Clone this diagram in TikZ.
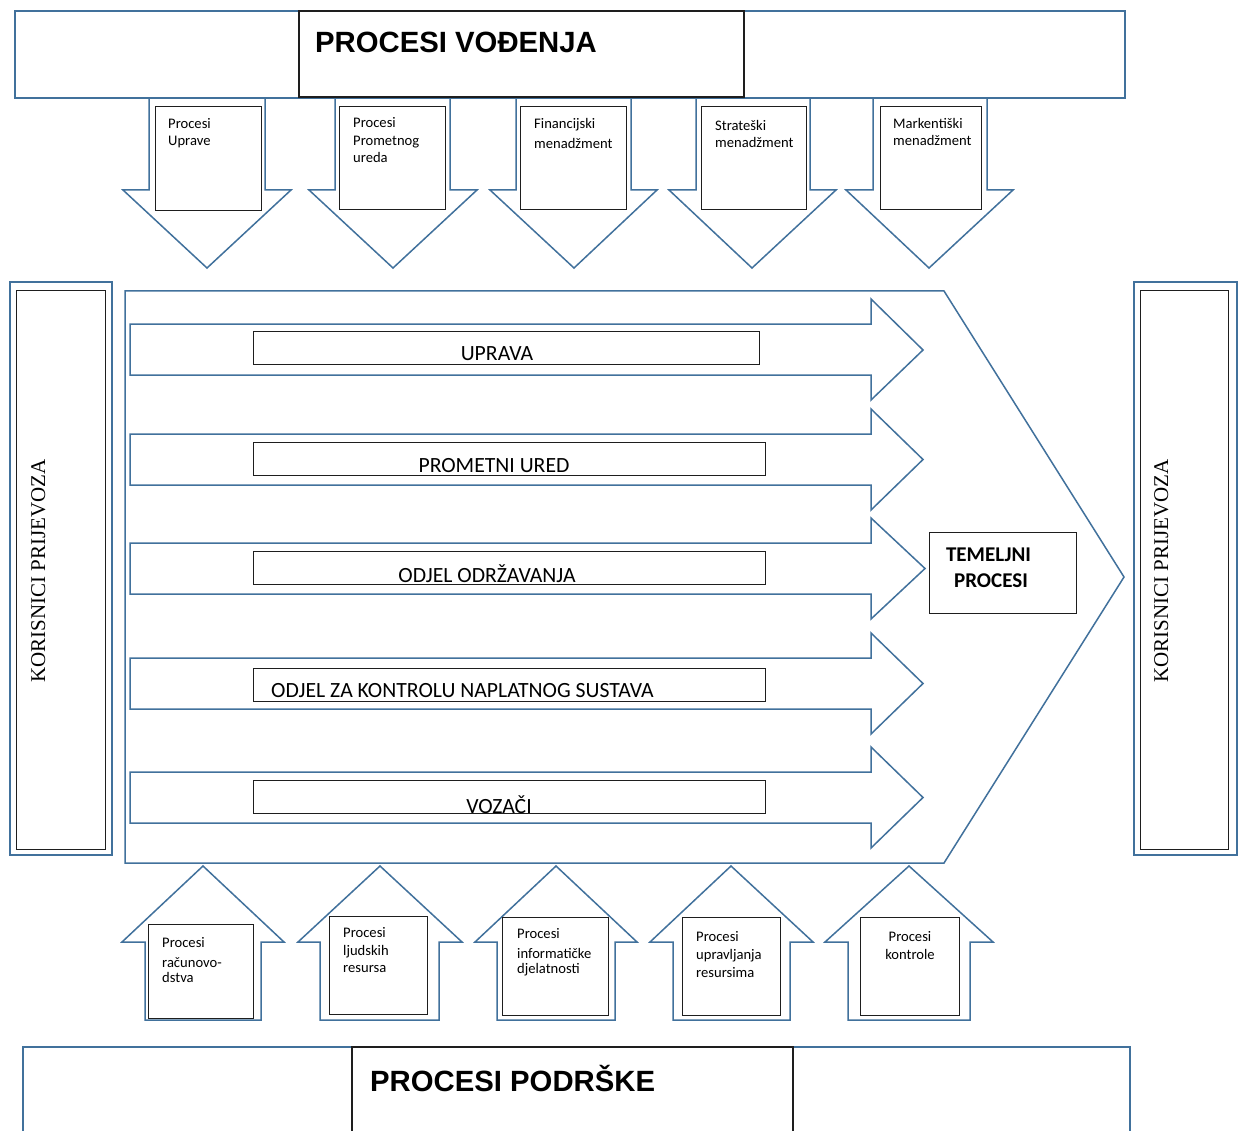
\documentclass[tikz,border=0pt]{standalone}
\usepackage{fontspec}
\newfontfamily\calfont{Carlito}
\newfontfamily\arifont{Liberation Sans}
\newfontfamily\timfont{Liberation Serif}
\definecolor{bl}{RGB}{65,113,156}
\definecolor{bk}{RGB}{30,30,30}
\tikzset{
  bline/.style={draw=bl, line width=1.5pt, line join=miter},
  bthick/.style={draw=bl, line width=2.4pt},
  bbox/.style={draw=bk, line width=1.0pt, fill=white},
  sm/.style={font=\calfont\fontsize{14.6}{17}\selectfont, anchor=base west, inner sep=0pt},
  smc/.style={font=\calfont\fontsize{14.6}{17}\selectfont, anchor=base, inner sep=0pt},
  rowlbl/.style={font=\calfont\fontsize{21.7}{26}\selectfont, anchor=base, inner sep=0pt},
  title/.style={font=\arifont\bfseries\fontsize{29.3}{34}\selectfont, anchor=base west, inner sep=0pt},
  vert/.style={font=\timfont\fontsize{21}{25}\selectfont, rotate=90, anchor=base, inner sep=0pt},
  tem/.style={font=\calfont\bfseries\fontsize{21}{25}\selectfont, anchor=base, inner sep=0pt}
}
\begin{document}
\begin{tikzpicture}[x=1pt,y=-1pt]
\useasboundingbox[fill=white] (0,0) rectangle (1238,1131);

% ---- top banner ----
\draw[bthick] (15,11) rectangle (1125,98);
\draw[bbox, line width=1.6pt] (299,11) rectangle (744,97);
\node[title] (tv) at (315,53) {PROCESI VOĐENJA};

% ---- top down arrows ----
\foreach \sl/\sr/\hl/\hr/\tx in {149/265/123/291/207, 335/450/309/477/393, 516/631/490/657/574, 696/810/669/836/752, 873/987/846/1013/929}
  \draw[bline] (\sl,99) -- (\sl,190) -- (\hl,190) -- (\tx,268) -- (\hr,190) -- (\sr,190) -- (\sr,99);
\draw[bbox] (155,107) rectangle (261,211);
\draw[bbox] (339,107) rectangle (445,210);
\draw[bbox] (520,107) rectangle (626,210);
\draw[bbox] (701,107) rectangle (806,210);
\draw[bbox] (880,107) rectangle (981,210);
\node[sm] (a1) at (168,129) {Procesi};
\node[sm] (a2) at (168,146) {Uprave};
\node[sm] (b1) at (353,128) {Procesi};
\node[sm] (b2) at (353,146) {Prometnog};
\node[sm] (b3) at (353,163) {ureda};
\node[sm] (c1) at (534,129) {Financijski};
\node[sm] (c2) at (534,149) {menadžment};
\node[sm] (d1) at (715,131) {Strateški};
\node[sm] (d2) at (715,148) {menadžment};
\node[sm] (e1) at (893,129) {Markentiški};
\node[sm] (e2) at (893,146) {menadžment};

% ---- side boxes ----
\draw[bline, line width=1.8pt] (10,282) rectangle (112,855);
\draw[bbox] (16,291) rectangle (105,849);
\node[vert] (kl) at (45,571) {KORISNICI PRIJEVOZA};
\draw[bline, line width=1.8pt] (1134,282) rectangle (1237,855);
\draw[bbox] (1140,291) rectangle (1228,849);
\node[vert] (kr) at (1168,571) {KORISNICI PRIJEVOZA};

% ---- chevron ----
\draw[bline] (125,291) -- (944,291) -- (1124,577) -- (944,863) -- (125,863) -- cycle;

% ---- horizontal arrows ----
\foreach \st/\sb/\ht/\hb/\ty/\tx in {324/375/299/400/350/923, 434/485/409/510/459.5/923, 543/594/518/619/568.5/925, 658/709/633/734/683.5/923, 772/823/747/848/797.5/923}
  \draw[bline] (130,\st) -- (871,\st) -- (871,\ht) -- (\tx,\ty) -- (871,\hb) -- (871,\sb) -- (130,\sb) -- cycle;
\draw[bbox] (253,331) rectangle (759,364);
\draw[bbox] (253,442) rectangle (765,475);
\draw[bbox] (253,551) rectangle (765,584);
\draw[bbox] (253,668) rectangle (765,701);
\draw[bbox] (253,780) rectangle (765,813);
\node[rowlbl] (r1) at (497,360) {UPRAVA};
\node[rowlbl] (r2) at (494,472) {PROMETNI URED};
\node[rowlbl] (r3) at (487,582) {ODJEL ODRŽAVANJA};
\node[rowlbl, anchor=base west] (r4) at (271,697) {ODJEL ZA KONTROLU NAPLATNOG SUSTAVA};
\node[rowlbl] (r5) at (499,813) {VOZAČI};

% ---- temeljni procesi ----
\draw[bbox] (929,532) rectangle (1076,613);
\node[tem] (tm1) at (988.5,561) {TEMELJNI};
\node[tem] (tm2) at (991,587) {PROCESI};

% ---- bottom up arrows ----
\foreach \sl/\sr/\hl/\hr/\tx in {145/261/122/284/203, 320/439/298/462/380, 497/615/475/637/556, 673/790/650/813/731, 848/970/825/993/909}
  \draw[bline] (\sl,1020) -- (\sl,942) -- (\hl,942) -- (\tx,866) -- (\hr,942) -- (\sr,942) -- (\sr,1020) -- cycle;
\draw[bbox] (148,924) rectangle (253,1018);
\draw[bbox] (329,916) rectangle (427,1014);
\draw[bbox] (502,917) rectangle (608,1015);
\draw[bbox] (682,917) rectangle (780,1015);
\draw[bbox] (860,917) rectangle (959,1015);
\node[sm] (f1) at (162,947) {Procesi};
\node[sm] (f2) at (162,967) {računovo-};
\node[sm] (f3) at (162,982) {dstva};
\node[sm] (g1) at (343,937) {Procesi};
\node[sm] (g2) at (343,955) {ljudskih};
\node[sm] (g3) at (343,972) {resursa};
\node[sm] (h1) at (517,938) {Procesi};
\node[sm] (h2) at (517,958) {informatičke};
\node[sm] (h3) at (517,973) {djelatnosti};
\node[sm] (i1) at (696,941) {Procesi};
\node[sm] (i2) at (696,959) {upravljanja};
\node[sm] (i3) at (696,977) {resursima};
\node[smc] (j1) at (910,941) {Procesi};
\node[smc] (j2) at (910,959) {kontrole};

% ---- bottom banner ----
\draw[bthick] (23,1047) rectangle (1130,1145);
\draw[bbox, line width=1.6pt] (352,1047) rectangle (793,1145);
\node[title] (tp) at (370,1091) {PROCESI PODRŠKE};
\end{tikzpicture}
\end{document}
